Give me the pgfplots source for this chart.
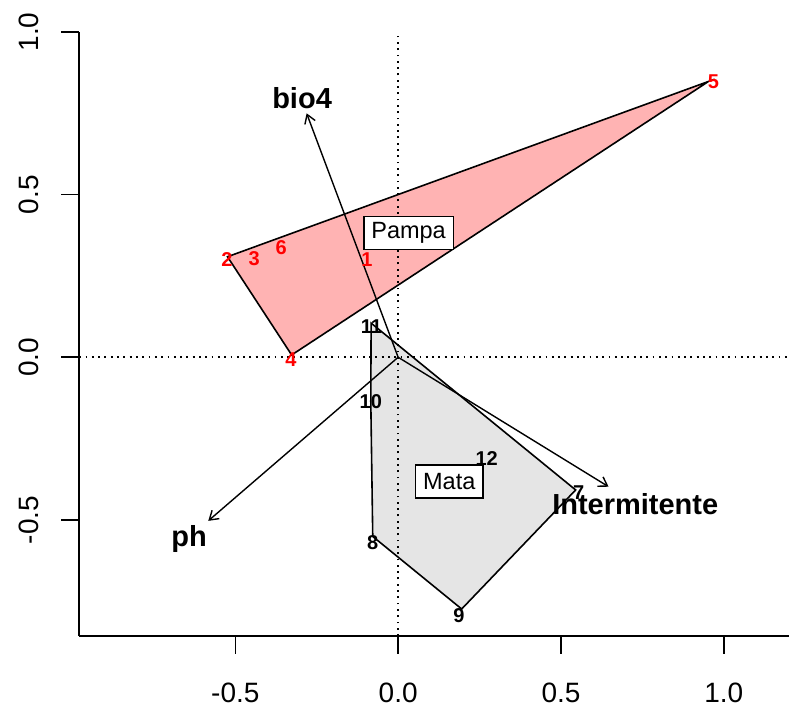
\documentclass[border=0pt]{standalone}
\usepackage{pgfplots}
\pgfplotsset{compat=1.18}
\usepackage{pgfplotstable}
\usepackage{fontspec}
\setmainfont{Liberation Sans}
\usetikzlibrary{arrows.meta}
\definecolor{pampafill}{RGB}{255,179,179}
\definecolor{matafill}{RGB}{229,229,229}

\pgfplotstableread{
x y
-0.524 0.309
0.953 0.848
-0.327 0.007
}\pampahull
\pgfplotstableread{
x y
-0.083 0.105
0.545 -0.408
0.195 -0.774
-0.078 -0.551
-0.084 -0.136
}\matahull
\pgfplotstableread{
x y lab
-0.096 0.300 1
-0.526 0.302 2
-0.442 0.303 3
-0.329 -0.008 4
0.968 0.847 5
-0.359 0.338 6
}\pampapts
\pgfplotstableread{
x y lab
0.554 -0.417 7
-0.078 -0.571 8
0.187 -0.794 9
-0.084 -0.136 10
-0.082 0.095 11
0.272 -0.310 12
}\matapts
\pgfplotstableread{
x y lab
-0.295 0.766 bio4
-0.642 -0.582 ph
0.728 -0.484 Intermitente
}\arrowlabs
\pgfplotstableread{
x y lab
0.032 0.382 Pampa
0.157 -0.382 Mata
}\grouplabs

\begin{document}
\begin{tikzpicture}
\begin{axis}[
  scale only axis,
  width=710pt, height=604pt,
  xmin=-0.979, xmax=1.201,
  ymin=-0.857, ymax=1.0,
  axis lines*=left,
  axis line style={line width=1.6pt},
  clip=false,
  tick align=outside,
  major tick length=18pt,
  tick style={line width=1.6pt, black},
  xtick={-0.5,0,0.5,1},
  xticklabels={-0.5,0.0,0.5,1.0},
  ytick={-0.5,0,0.5,1},
  yticklabels={-0.5,0.0,0.5,1.0},
  ticklabel style={font=\fontsize{28}{32}\selectfont},
  xticklabel style={anchor=north, inner sep=0pt, yshift=-29pt},
  yticklabel style={rotate=90, anchor=base, inner sep=0pt, yshift=23pt},
]
\coordinate (bl) at (rel axis cs:0,0);
% hulls
\addplot[fill=pampafill, draw=black, line width=1.6pt] table {\pampahull} -- cycle;
\addplot[fill=matafill, draw=black, line width=1.6pt] table {\matahull} -- cycle;
% reference lines
\addplot[black, line width=1.5pt, dash pattern=on 1.8pt off 4.5pt] coordinates {(-0.979,0) (1.201,0)};
\addplot[black, line width=1.5pt, dash pattern=on 1.8pt off 4.5pt] coordinates {(0,-0.857) (0,1.0)};
% arrows
\addplot[black, line width=1.4pt, -{Straight Barb[length=8.5pt, width=11pt, line width=1.4pt]}] coordinates {(0,0) (-0.281,0.750)};
\addplot[black, line width=1.4pt, -{Straight Barb[length=8.5pt, width=11pt, line width=1.4pt]}] coordinates {(0,0) (-0.583,-0.503)};
\addplot[black, line width=1.4pt, -{Straight Barb[length=8.5pt, width=11pt, line width=1.4pt]}] coordinates {(0,0) (0.646,-0.398)};
% point labels
\addplot[draw=none, mark=none, nodes near coords, point meta=explicit symbolic,
  every node near coord/.append style={anchor=center, inner sep=0pt, text=red, font=\fontsize{20}{22}\selectfont\bfseries}]
  table[meta=lab] {\pampapts};
\addplot[draw=none, mark=none, nodes near coords, point meta=explicit symbolic,
  every node near coord/.append style={anchor=center, inner sep=0pt, text=black, font=\fontsize{20}{22}\selectfont\bfseries}]
  table[meta=lab] {\matapts};
% arrow labels
\addplot[draw=none, mark=none, nodes near coords, point meta=explicit symbolic,
  every node near coord/.append style={anchor=base, inner sep=0pt, text=black, font=\fontsize{29}{32}\selectfont\bfseries}]
  table[meta=lab] {\arrowlabs};
% group labels
\addplot[draw=none, mark=none, nodes near coords, point meta=explicit symbolic,
  every node near coord/.append style={anchor=center, fill=white, draw=black, line width=1.5pt, inner xsep=7.5pt, minimum height=33pt, text=black, font=\fontsize{23.5}{26}\selectfont}]
  table[meta=lab] {\grouplabs};
\end{axis}
\pgfresetboundingbox
\path (bl) ++(-79.3pt,-72pt) rectangle ++(789pt,708pt);
\end{tikzpicture}
\end{document}
